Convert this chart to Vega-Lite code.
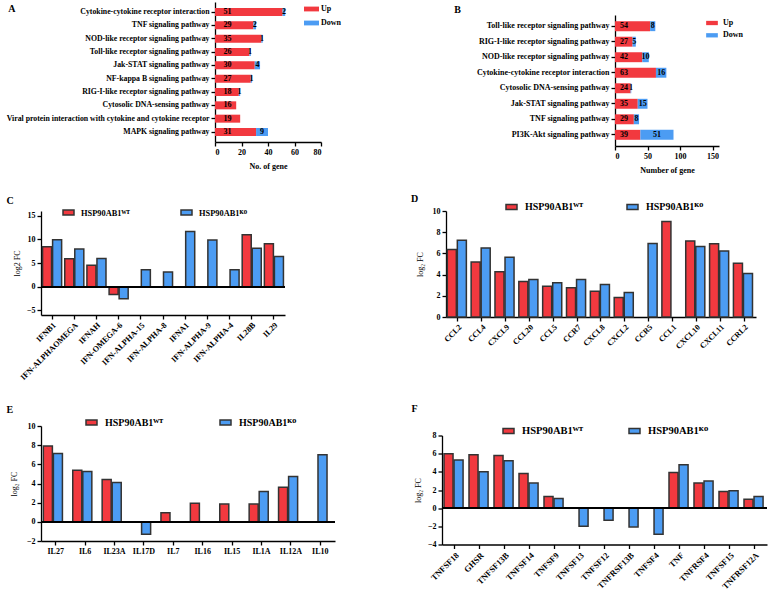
{
  "$schema": "https://vega.github.io/schema/vega-lite/v6.json",
  "padding": {"left": 6, "top": 2, "right": 0, "bottom": 0},
  "datasets": {
    "pathA": [
      {"pathway": "Cytokine-cytokine receptor interaction", "dir": "Up", "n": 51},
      {"pathway": "Cytokine-cytokine receptor interaction", "dir": "Down", "n": 2},
      {"pathway": "TNF signaling pathway", "dir": "Up", "n": 29},
      {"pathway": "TNF signaling pathway", "dir": "Down", "n": 2},
      {"pathway": "NOD-like receptor signaling pathway", "dir": "Up", "n": 35},
      {"pathway": "NOD-like receptor signaling pathway", "dir": "Down", "n": 1},
      {"pathway": "Toll-like receptor signaling pathway", "dir": "Up", "n": 26},
      {"pathway": "Toll-like receptor signaling pathway", "dir": "Down", "n": 1},
      {"pathway": "Jak-STAT signaling pathway", "dir": "Up", "n": 30},
      {"pathway": "Jak-STAT signaling pathway", "dir": "Down", "n": 4},
      {"pathway": "NF-kappa B signaling pathway", "dir": "Up", "n": 27},
      {"pathway": "NF-kappa B signaling pathway", "dir": "Down", "n": 1},
      {"pathway": "RIG-I-like receptor signaling pathway", "dir": "Up", "n": 18},
      {"pathway": "RIG-I-like receptor signaling pathway", "dir": "Down", "n": 1},
      {"pathway": "Cytosolic DNA-sensing pathway", "dir": "Up", "n": 16},
      {"pathway": "Viral protein interaction with cytokine and cytokine receptor", "dir": "Up", "n": 19},
      {"pathway": "MAPK signaling pathway", "dir": "Up", "n": 31},
      {"pathway": "MAPK signaling pathway", "dir": "Down", "n": 9}
    ],
    "pathB": [
      {"pathway": "Toll-like receptor signaling pathway", "dir": "Up", "n": 54},
      {"pathway": "Toll-like receptor signaling pathway", "dir": "Down", "n": 8},
      {"pathway": "RIG-I-like receptor signaling pathway", "dir": "Up", "n": 27},
      {"pathway": "RIG-I-like receptor signaling pathway", "dir": "Down", "n": 5},
      {"pathway": "NOD-like receptor signaling pathway", "dir": "Up", "n": 42},
      {"pathway": "NOD-like receptor signaling pathway", "dir": "Down", "n": 10},
      {"pathway": "Cytokine-cytokine receptor interaction", "dir": "Up", "n": 63},
      {"pathway": "Cytokine-cytokine receptor interaction", "dir": "Down", "n": 16},
      {"pathway": "Cytosolic DNA-sensing pathway", "dir": "Up", "n": 24},
      {"pathway": "Cytosolic DNA-sensing pathway", "dir": "Down", "n": 1},
      {"pathway": "Jak-STAT signaling pathway", "dir": "Up", "n": 35},
      {"pathway": "Jak-STAT signaling pathway", "dir": "Down", "n": 15},
      {"pathway": "TNF signaling pathway", "dir": "Up", "n": 29},
      {"pathway": "TNF signaling pathway", "dir": "Down", "n": 8},
      {"pathway": "PI3K-Akt signaling pathway", "dir": "Up", "n": 39},
      {"pathway": "PI3K-Akt signaling pathway", "dir": "Down", "n": 51}
    ],
    "ifn": [
      {"gene": "IFNB1", "group": "WT", "fc": 8.46},
      {"gene": "IFNB1", "group": "KO", "fc": 9.94},
      {"gene": "IFN-ALPHAOMEGA", "group": "WT", "fc": 5.9},
      {"gene": "IFN-ALPHAOMEGA", "group": "KO", "fc": 7.95},
      {"gene": "IFNAH", "group": "WT", "fc": 4.5},
      {"gene": "IFNAH", "group": "KO", "fc": 5.95},
      {"gene": "IFN-OMEGA-6", "group": "WT", "fc": -1.65},
      {"gene": "IFN-OMEGA-6", "group": "KO", "fc": -2.55},
      {"gene": "IFN-ALPHA-15", "group": "KO", "fc": 3.55},
      {"gene": "IFN-ALPHA-8", "group": "KO", "fc": 3.1},
      {"gene": "IFNA1", "group": "KO", "fc": 11.65},
      {"gene": "IFN-ALPHA-9", "group": "KO", "fc": 9.85},
      {"gene": "IFN-ALPHA-4", "group": "KO", "fc": 3.55},
      {"gene": "IL28B", "group": "WT", "fc": 10.95},
      {"gene": "IL28B", "group": "KO", "fc": 8.1},
      {"gene": "IL29", "group": "WT", "fc": 9.05},
      {"gene": "IL29", "group": "KO", "fc": 6.35}
    ],
    "chemokine": [
      {"gene": "CCL2", "group": "WT", "fc": 6.36},
      {"gene": "CCL2", "group": "KO", "fc": 7.25},
      {"gene": "CCL4", "group": "WT", "fc": 5.19},
      {"gene": "CCL4", "group": "KO", "fc": 6.52},
      {"gene": "CXCL9", "group": "WT", "fc": 4.27},
      {"gene": "CXCL9", "group": "KO", "fc": 5.63},
      {"gene": "CCL20", "group": "WT", "fc": 3.35},
      {"gene": "CCL20", "group": "KO", "fc": 3.54},
      {"gene": "CCL5", "group": "WT", "fc": 2.91},
      {"gene": "CCL5", "group": "KO", "fc": 3.23},
      {"gene": "CCR7", "group": "WT", "fc": 2.75},
      {"gene": "CCR7", "group": "KO", "fc": 3.54},
      {"gene": "CXCL8", "group": "WT", "fc": 2.44},
      {"gene": "CXCL8", "group": "KO", "fc": 3.07},
      {"gene": "CXCL2", "group": "WT", "fc": 1.84},
      {"gene": "CXCL2", "group": "KO", "fc": 2.31},
      {"gene": "CCR5", "group": "KO", "fc": 6.93},
      {"gene": "CCL1", "group": "WT", "fc": 9.02},
      {"gene": "CXCL10", "group": "WT", "fc": 7.18},
      {"gene": "CXCL10", "group": "KO", "fc": 6.65},
      {"gene": "CXCL11", "group": "WT", "fc": 6.9},
      {"gene": "CXCL11", "group": "KO", "fc": 6.23},
      {"gene": "CCRL2", "group": "WT", "fc": 5.06},
      {"gene": "CCRL2", "group": "KO", "fc": 4.11}
    ],
    "interleukin": [
      {"gene": "IL27", "group": "WT", "fc": 7.91},
      {"gene": "IL27", "group": "KO", "fc": 7.14},
      {"gene": "IL6", "group": "WT", "fc": 5.37},
      {"gene": "IL6", "group": "KO", "fc": 5.26},
      {"gene": "IL23A", "group": "WT", "fc": 4.42},
      {"gene": "IL23A", "group": "KO", "fc": 4.11},
      {"gene": "IL17D", "group": "KO", "fc": -1.29},
      {"gene": "IL7", "group": "WT", "fc": 0.94},
      {"gene": "IL16", "group": "WT", "fc": 1.95},
      {"gene": "IL15", "group": "WT", "fc": 1.85},
      {"gene": "IL1A", "group": "WT", "fc": 1.85},
      {"gene": "IL1A", "group": "KO", "fc": 3.17},
      {"gene": "IL12A", "group": "WT", "fc": 3.62},
      {"gene": "IL12A", "group": "KO", "fc": 4.74},
      {"gene": "IL10", "group": "KO", "fc": 7.0}
    ],
    "tnf": [
      {"gene": "TNFSF18", "group": "WT", "fc": 6.0},
      {"gene": "TNFSF18", "group": "KO", "fc": 5.3},
      {"gene": "GHSR", "group": "WT", "fc": 5.88},
      {"gene": "GHSR", "group": "KO", "fc": 4.0},
      {"gene": "TNFSF13B", "group": "WT", "fc": 5.8},
      {"gene": "TNFSF13B", "group": "KO", "fc": 5.22},
      {"gene": "TNFSF14", "group": "WT", "fc": 3.82},
      {"gene": "TNFSF14", "group": "KO", "fc": 2.76},
      {"gene": "TNFSF9", "group": "WT", "fc": 1.29},
      {"gene": "TNFSF9", "group": "KO", "fc": 1.07},
      {"gene": "TNFSF13", "group": "KO", "fc": -1.99},
      {"gene": "TNFSF12", "group": "KO", "fc": -1.32},
      {"gene": "TNFRSF13B", "group": "KO", "fc": -2.06},
      {"gene": "TNFSF4", "group": "KO", "fc": -2.87},
      {"gene": "TNF", "group": "WT", "fc": 3.93},
      {"gene": "TNF", "group": "KO", "fc": 4.78},
      {"gene": "TNFRSF4", "group": "WT", "fc": 2.76},
      {"gene": "TNFRSF4", "group": "KO", "fc": 2.98},
      {"gene": "TNFSF15", "group": "WT", "fc": 1.84},
      {"gene": "TNFSF15", "group": "KO", "fc": 1.91},
      {"gene": "TNFRSF12A", "group": "WT", "fc": 0.99},
      {"gene": "TNFRSF12A", "group": "KO", "fc": 1.29}
    ]
  },
  "columns": 1,
  "align": "none",
  "spacing": 20,
  "resolve": {"scale": {"color": "independent"}, "legend": {"color": "independent"}},
  "concat": [
    {
      "columns": 2,
      "align": "none",
      "spacing": -11,
      "resolve": {"scale": {"color": "independent"}, "legend": {"color": "independent"}},
      "concat": [
        {"width": 1, "height": 1, "data": {"values": []}, "mark": "point"},
        {
          "columns": 2,
          "align": "none",
          "spacing": 112,
          "resolve": {"scale": {"color": "independent"}, "legend": {"color": "independent"}},
          "concat": [
            {
              "title": {"text": "A", "offset": -12, "dx": 2},
              "width": 106,
              "height": 140,
              "data": {"name": "pathA"},
              "transform": [
                {"stack": "n", "groupby": ["pathway"], "sort": [{"field": "dir", "order": "descending"}], "as": ["n0", "n1"]}
              ],
              "encoding": {
                "y": {
                  "field": "pathway",
                  "type": "nominal",
                  "sort": [
                    "Cytokine-cytokine receptor interaction",
                    "TNF signaling pathway",
                    "NOD-like receptor signaling pathway",
                    "Toll-like receptor signaling pathway",
                    "Jak-STAT signaling pathway",
                    "NF-kappa B signaling pathway",
                    "RIG-I-like receptor signaling pathway",
                    "Cytosolic DNA-sensing pathway",
                    "Viral protein interaction with cytokine and cytokine receptor",
                    "MAPK signaling pathway"
                  ],
                  "scale": {"paddingInner": 0.4, "paddingOuter": 0.45},
                  "axis": {"title": null, "labelLimit": 300, "labelFontSize": 7.8}
                }
              },
              "layer": [
                {
                  "mark": {"type": "bar"},
                  "encoding": {
                    "x": {
                      "field": "n0",
                      "type": "quantitative",
                      "scale": {"domain": [0, 80]},
                      "axis": {"values": [0, 20, 40, 60, 80], "title": "No. of gene", "titleFontWeight": "bold", "titlePadding": 6}
                    },
                    "x2": {"field": "n1"},
                    "color": {
                      "field": "dir",
                      "type": "nominal",
                      "scale": {"domain": ["Up", "Down"], "range": ["#F2393F", "#4C9CF3"]},
                      "legend": {
                        "title": null,
                        "orient": "none",
                        "legendX": 91.5,
                        "legendY": 2,
                        "direction": "vertical",
                        "symbolType": "M-1.5,-0.48H1.5V0.48H-1.5Z",
                        "symbolSize": 100,
                        "symbolStrokeWidth": 0,
                        "labelOffset": 4.5,
                        "rowPadding": 5
                      }
                    }
                  }
                },
                {
                  "transform": [{"filter": "datum.dir == 'Up'"}],
                  "mark": {"type": "text", "align": "left", "baseline": "middle", "dx": 8.5, "fontSize": 8, "fontWeight": "bold", "color": "#000"},
                  "encoding": {
                    "x": {"field": "n0", "type": "quantitative", "axis": {"values": [0, 20, 40, 60, 80], "title": "No. of gene", "titleFontWeight": "bold", "titlePadding": 6}},
                    "text": {"field": "n", "type": "quantitative"}
                  }
                },
                {
                  "transform": [
                    {"filter": "datum.dir == 'Down'"},
                    {"fold": ["n0", "n1"], "as": ["k", "v"]}
                  ],
                  "mark": {"type": "text", "align": "center", "baseline": "middle", "fontSize": 8, "fontWeight": "bold", "color": "#000"},
                  "encoding": {
                    "x": {"aggregate": "mean", "field": "v", "type": "quantitative", "axis": {"values": [0, 20, 40, 60, 80], "title": "No. of gene", "titleFontWeight": "bold", "titlePadding": 6}},
                    "text": {"aggregate": "max", "field": "n", "type": "quantitative"}
                  }
                }
              ]
            },
            {
              "columns": 1,
              "align": "none",
              "spacing": 2,
              "resolve": {"scale": {"color": "independent"}, "legend": {"color": "independent"}},
              "concat": [
                {"width": 1, "height": 1, "data": {"values": []}, "mark": "point"},
                {
                  "title": {"text": "B", "offset": 0, "dx": -22},
                  "width": 104,
                  "height": 131,
                  "data": {"name": "pathB"},
                  "transform": [
                    {"stack": "n", "groupby": ["pathway"], "sort": [{"field": "dir", "order": "descending"}], "as": ["n0", "n1"]}
                  ],
                  "encoding": {
                    "y": {
                      "field": "pathway",
                      "type": "nominal",
                      "sort": [
                        "Toll-like receptor signaling pathway",
                        "RIG-I-like receptor signaling pathway",
                        "NOD-like receptor signaling pathway",
                        "Cytokine-cytokine receptor interaction",
                        "Cytosolic DNA-sensing pathway",
                        "Jak-STAT signaling pathway",
                        "TNF signaling pathway",
                        "PI3K-Akt signaling pathway"
                      ],
                      "scale": {"paddingInner": 0.36, "paddingOuter": 0.4},
                      "axis": {"title": null, "labelLimit": 300}
                    }
                  },
                  "layer": [
                    {
                      "mark": {"type": "bar"},
                      "encoding": {
                        "x": {
                          "field": "n0",
                          "type": "quantitative",
                          "scale": {"domain": [0, 150]},
                          "axis": {"values": [0, 50, 100, 150], "title": "Number of gene", "titleFontWeight": "bold", "titlePadding": 6}
                        },
                        "x2": {"field": "n1"},
                        "color": {
                          "field": "dir",
                          "type": "nominal",
                          "scale": {"domain": ["Up", "Down"], "range": ["#F2393F", "#4C9CF3"]},
                          "legend": {
                            "title": null,
                            "orient": "none",
                            "legendX": 92,
                            "legendY": 3,
                            "direction": "vertical",
                            "symbolType": "M-1.17,-0.43H1.17V0.43H-1.17Z",
                            "symbolSize": 100,
                            "symbolStrokeWidth": 0,
                            "labelOffset": 6,
                            "rowPadding": 3.3
                          }
                        }
                      }
                    },
                    {
                      "transform": [{"filter": "datum.dir == 'Up'"}],
                      "mark": {"type": "text", "align": "left", "baseline": "middle", "dx": 5, "fontSize": 8, "fontWeight": "bold", "color": "#000"},
                      "encoding": {
                        "x": {"field": "n0", "type": "quantitative", "axis": {"values": [0, 50, 100, 150], "title": "Number of gene", "titleFontWeight": "bold", "titlePadding": 6}},
                        "text": {"field": "n", "type": "quantitative"}
                      }
                    },
                    {
                      "transform": [
                        {"filter": "datum.dir == 'Down'"},
                        {"fold": ["n0", "n1"], "as": ["k", "v"]}
                      ],
                      "mark": {"type": "text", "align": "center", "baseline": "middle", "fontSize": 8, "fontWeight": "bold", "color": "#000"},
                      "encoding": {
                        "x": {"aggregate": "mean", "field": "v", "type": "quantitative", "axis": {"values": [0, 50, 100, 150], "title": "Number of gene", "titleFontWeight": "bold", "titlePadding": 6}},
                        "text": {"aggregate": "max", "field": "n", "type": "quantitative"}
                      }
                    }
                  ]
                }
              ]
            }
          ]
        }
      ]
    },
    {
      "columns": 1,
      "align": "none",
      "spacing": 23,
      "resolve": {"scale": {"color": "independent"}, "legend": {"color": "independent"}},
      "concat": [
        {
          "columns": 2,
          "align": "none",
          "spacing": -11,
          "resolve": {"scale": {"color": "independent"}, "legend": {"color": "independent"}},
          "concat": [
            {"width": 1, "height": 1, "data": {"values": []}, "mark": "point"},
            {
              "columns": 2,
              "align": "none",
              "spacing": 125,
              "resolve": {"scale": {"color": "independent"}, "legend": {"color": "independent"}},
              "concat": [
                {
                  "title": {"text": "C", "offset": 0, "dx": -7},
                  "width": 244,
                  "height": 104,
                  "data": {"name": "ifn"},
                  "layer": [
                    {
                      "mark": {"type": "bar", "stroke": "#333333", "strokeWidth": 1.5},
                      "encoding": {
                        "x": {"field": "gene", "type": "nominal", "sort": null, "scale": {"paddingInner": 0.14, "paddingOuter": 0.07}, "axis": {"title": null, "labelAngle": -45, "labelFontSize": 8.2}},
                        "xOffset": {"field": "group", "type": "nominal", "scale": {"domain": ["WT", "KO"], "paddingInner": 0.1}},
                        "y": {"field": "fc", "type": "quantitative", "scale": {"domain": [-5, 15]}, "axis": {"values": [-5, 0, 5, 10, 15], "title": "log2 FC", "titlePadding": 5}},
                        "color": {
                          "field": "group",
                          "type": "nominal",
                          "scale": {"domain": ["WT", "KO"], "range": ["#F2393F", "#4C9CF3"]},
                          "legend": {
                            "title": null,
                            "orient": "none",
                            "legendX": 21,
                            "legendY": -5,
                            "direction": "horizontal",
                            "symbolType": "M-1,-0.45H1V0.45H-1Z",
                            "symbolSize": 121,
                            "symbolStrokeColor": "#333333",
                            "symbolStrokeWidth": 1.5,
                            "labelFontSize": 8.4,
                            "labelOffset": 6,
                            "columnPadding": 48,
                            "labelExpr": "datum.label == 'WT' ? 'HSP90AB1ᵂᵀ' : 'HSP90AB1ᴷᴼ'"
                          }
                        }
                      }
                    },
                    {
                      "mark": {"type": "rule", "color": "#000", "strokeWidth": 1.5},
                      "encoding": {"y": {"datum": 0, "type": "quantitative", "axis": {"values": [-5, 0, 5, 10, 15], "title": "log2 FC", "titlePadding": 5}}}
                    }
                  ]
                },
                {
                  "title": {"text": "D", "offset": -3.5, "dx": -5},
                  "width": 310,
                  "height": 106,
                  "data": {"name": "chemokine"},
                  "mark": {"type": "bar", "stroke": "#333333", "strokeWidth": 1.5},
                  "encoding": {
                    "x": {"field": "gene", "type": "nominal", "sort": null, "scale": {"paddingInner": 0.107, "paddingOuter": 0.054}, "axis": {"title": null, "labelAngle": -45}},
                    "xOffset": {"field": "group", "type": "nominal", "scale": {"domain": ["WT", "KO"], "paddingInner": 0.05}},
                    "y": {"field": "fc", "type": "quantitative", "scale": {"domain": [0, 10]}, "axis": {"values": [0, 2, 4, 6, 8, 10], "title": "log₂ FC", "titlePadding": 8}},
                    "color": {
                      "field": "group",
                      "type": "nominal",
                      "scale": {"domain": ["WT", "KO"], "range": ["#F2393F", "#4C9CF3"]},
                      "legend": {
                        "title": null,
                        "orient": "none",
                        "legendX": 59,
                        "legendY": -10.5,
                        "direction": "horizontal",
                        "symbolType": "M-1,-0.45H1V0.45H-1Z",
                        "symbolSize": 121,
                        "symbolStrokeColor": "#333333",
                        "symbolStrokeWidth": 1.5,
                        "labelFontSize": 10,
                        "labelOffset": 7,
                        "columnPadding": 40,
                        "labelExpr": "datum.label == 'WT' ? 'HSP90AB1ᵂᵀ' : 'HSP90AB1ᴷᴼ'"
                      }
                    }
                  }
                }
              ]
            }
          ]
        },
        {
          "columns": 2,
          "align": "none",
          "spacing": -11,
          "resolve": {"scale": {"color": "independent"}, "legend": {"color": "independent"}},
          "concat": [
            {"width": 1, "height": 1, "data": {"values": []}, "mark": "point"},
            {
              "columns": 2,
              "align": "none",
              "spacing": 75,
              "resolve": {"scale": {"color": "independent"}, "legend": {"color": "independent"}},
              "concat": [
                {
                  "title": {"text": "E", "offset": 1.5, "dx": -4},
                  "width": 294,
                  "height": 115,
                  "data": {"name": "interleukin"},
                  "layer": [
                    {
                      "mark": {"type": "bar", "stroke": "#333333", "strokeWidth": 1.5},
                      "encoding": {
                        "x": {"field": "gene", "type": "nominal", "sort": null, "scale": {"paddingInner": 0.16, "paddingOuter": 0.08}, "axis": {"title": null, "labelAngle": 0}},
                        "xOffset": {"field": "group", "type": "nominal", "scale": {"domain": ["WT", "KO"], "paddingInner": 0.1}},
                        "y": {"field": "fc", "type": "quantitative", "scale": {"domain": [-2, 10]}, "axis": {"values": [-2, 0, 2, 4, 6, 8, 10], "title": "log₂ FC", "titlePadding": 8}},
                        "color": {
                          "field": "group",
                          "type": "nominal",
                          "scale": {"domain": ["WT", "KO"], "range": ["#F2393F", "#4C9CF3"]},
                          "legend": {
                            "title": null,
                            "orient": "none",
                            "legendX": 44,
                            "legendY": -10,
                            "direction": "horizontal",
                            "symbolType": "M-1,-0.45H1V0.45H-1Z",
                            "symbolSize": 121,
                            "symbolStrokeColor": "#333333",
                            "symbolStrokeWidth": 1.5,
                            "labelFontSize": 10,
                            "labelOffset": 7,
                            "columnPadding": 53,
                            "labelExpr": "datum.label == 'WT' ? 'HSP90AB1ᵂᵀ' : 'HSP90AB1ᴷᴼ'"
                          }
                        }
                      }
                    },
                    {
                      "mark": {"type": "rule", "color": "#000", "strokeWidth": 1.5},
                      "encoding": {"y": {"datum": 0, "type": "quantitative", "axis": {"values": [-2, 0, 2, 4, 6, 8, 10], "title": "log₂ FC", "titlePadding": 8}}}
                    }
                  ]
                },
                {
                  "columns": 1,
                  "align": "none",
                  "spacing": -23.5,
                  "resolve": {"scale": {"color": "independent"}, "legend": {"color": "independent"}},
                  "concat": [
                    {"width": 1, "height": 1, "data": {"values": []}, "mark": "point"},
                    {
                      "title": {"text": "F", "offset": 10.5, "dx": -3},
                      "width": 325,
                      "height": 109,
                      "data": {"name": "tnf"},
                      "layer": [
                        {
                          "mark": {"type": "bar", "stroke": "#333333", "strokeWidth": 1.5},
                          "encoding": {
                            "x": {"field": "gene", "type": "nominal", "sort": null, "scale": {"paddingInner": 0.16, "paddingOuter": 0.08}, "axis": {"title": null, "labelAngle": -45, "labelFontSize": 8.5}},
                            "xOffset": {"field": "group", "type": "nominal", "scale": {"domain": ["WT", "KO"], "paddingInner": 0.1}},
                            "y": {"field": "fc", "type": "quantitative", "scale": {"domain": [-4, 8]}, "axis": {"values": [-4, -2, 0, 2, 4, 6, 8], "title": "log₂ FC", "titlePadding": 5}},
                            "color": {
                              "field": "group",
                              "type": "nominal",
                              "scale": {"domain": ["WT", "KO"], "range": ["#F2393F", "#4C9CF3"]},
                              "legend": {
                                "title": null,
                                "orient": "none",
                                "legendX": 60,
                                "legendY": -11,
                                "direction": "horizontal",
                                "symbolType": "M-1,-0.45H1V0.45H-1Z",
                                "symbolSize": 121,
                                "symbolStrokeColor": "#333333",
                                "symbolStrokeWidth": 1.5,
                                "labelFontSize": 10.5,
                                "labelOffset": 7,
                                "columnPadding": 42,
                                "labelExpr": "datum.label == 'WT' ? 'HSP90AB1ᵂᵀ' : 'HSP90AB1ᴷᴼ'"
                              }
                            }
                          }
                        },
                        {
                          "mark": {"type": "rule", "color": "#000", "strokeWidth": 1.5},
                          "encoding": {"y": {"datum": 0, "type": "quantitative", "axis": {"values": [-4, -2, 0, 2, 4, 6, 8], "title": "log₂ FC", "titlePadding": 5}}}
                        }
                      ]
                    }
                  ]
                }
              ]
            }
          ]
        }
      ]
    }
  ],
  "config": {
    "font": "Liberation Serif",
    "view": {"stroke": null},
    "axis": {
      "grid": false,
      "labelOverlap": false,
      "domainColor": "#000",
      "domainWidth": 1.3,
      "tickColor": "#000",
      "tickWidth": 1.3,
      "tickSize": 4,
      "labelFont": "Liberation Serif",
      "labelFontWeight": "bold",
      "labelFontSize": 8,
      "labelColor": "#000",
      "labelPadding": 2,
      "titleFont": "Liberation Serif",
      "titleFontSize": 8,
      "titleFontWeight": "normal",
      "titleColor": "#000"
    },
    "legend": {
      "labelFont": "Liberation Serif",
      "labelFontWeight": "bold",
      "labelFontSize": 8,
      "labelColor": "#000",
      "padding": 0
    },
    "title": {
      "font": "Liberation Serif",
      "fontSize": 10,
      "fontWeight": "bold",
      "color": "#000",
      "anchor": "start",
      "frame": "bounds"
    }
  }
}
